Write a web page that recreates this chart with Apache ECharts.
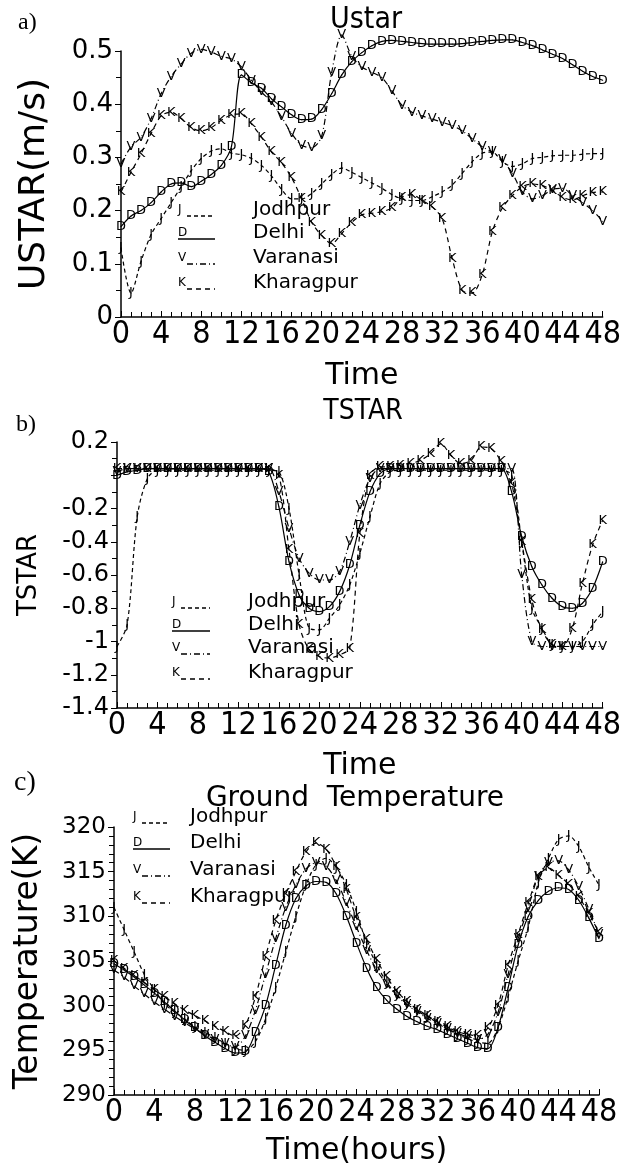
<!DOCTYPE html>
<html>
<head>
<meta charset="utf-8">
<script src="https://cdn.jsdelivr.net/npm/echarts@6/dist/echarts.min.js"></script>
<style>
  html, body { margin: 0; background: #fff; }
  #chart { width: 624px; height: 1171px; }
</style>
</head>
<body>
<div id="chart"></div>
<script>
// hours of the run
const hours = [0,1,2,3,4,5,6,7,8,9,10,11,12,13,14,15,16,17,18,19,20,21,22,23,24,
  25,26,27,28,29,30,31,32,33,34,35,36,37,38,39,40,41,42,43,44,45,46,47,48];

// a) Ustar (m/s)
const ustarJodhpur = [0.13,0.045,0.105,0.155,0.185,0.215,0.245,0.275,0.298,0.312,0.316,0.308,0.305,0.298,0.285,0.265,0.24,0.222,0.222,0.232,0.25,0.268,0.28,0.272,0.262,0.252,0.242,0.23,0.222,0.219,0.219,0.226,0.235,0.248,0.27,0.292,0.308,0.31,0.292,0.283,0.288,0.298,0.30,0.303,0.304,0.304,0.306,0.307,0.307];
const ustarDelhi = [0.17,0.19,0.20,0.215,0.235,0.25,0.252,0.245,0.255,0.268,0.285,0.32,0.455,0.44,0.43,0.41,0.395,0.38,0.371,0.372,0.39,0.42,0.455,0.48,0.497,0.51,0.518,0.52,0.518,0.516,0.514,0.513,0.513,0.513,0.514,0.516,0.518,0.52,0.521,0.521,0.516,0.51,0.502,0.494,0.486,0.474,0.462,0.452,0.445];
const ustarVaranasi = [0.288,0.32,0.338,0.373,0.42,0.452,0.476,0.496,0.503,0.498,0.49,0.485,0.47,0.445,0.423,0.404,0.376,0.345,0.323,0.318,0.34,0.46,0.53,0.49,0.47,0.46,0.45,0.425,0.398,0.385,0.378,0.372,0.366,0.36,0.35,0.335,0.32,0.31,0.295,0.27,0.235,0.222,0.228,0.24,0.242,0.228,0.215,0.2,0.18];
const ustarKharagpur = [0.235,0.272,0.307,0.345,0.378,0.385,0.373,0.356,0.35,0.356,0.37,0.38,0.382,0.363,0.338,0.31,0.29,0.262,0.222,0.178,0.153,0.138,0.157,0.178,0.192,0.195,0.198,0.205,0.225,0.23,0.219,0.207,0.185,0.11,0.05,0.045,0.08,0.16,0.205,0.228,0.245,0.25,0.247,0.238,0.225,0.22,0.228,0.234,0.235];

// b) TSTAR
const tstarJodhpur = [-1.03,-0.9,-0.25,-0.02,0.03,0.03,0.03,0.03,0.03,0.03,0.03,0.03,0.03,0.03,0.03,0.03,0.02,-0.2,-0.6,-0.92,-0.93,-0.86,-0.78,-0.66,-0.47,-0.25,-0.05,0.02,0.03,0.03,0.03,0.03,0.03,0.03,0.03,0.03,0.03,0.03,0.03,0.0,-0.4,-0.8,-0.92,-1.02,-1.03,-1.03,-1.0,-0.9,-0.82];
const tstarDelhi = [0.0,0.02,0.03,0.04,0.04,0.04,0.04,0.04,0.04,0.04,0.04,0.04,0.04,0.04,0.04,0.02,-0.19,-0.52,-0.72,-0.8,-0.82,-0.79,-0.7,-0.54,-0.3,-0.1,0.01,0.04,0.04,0.04,0.04,0.04,0.04,0.04,0.04,0.04,0.04,0.04,0.04,-0.1,-0.37,-0.55,-0.66,-0.74,-0.79,-0.8,-0.77,-0.68,-0.52];
const tstarVaranasi = [0.02,0.04,0.04,0.04,0.04,0.04,0.04,0.04,0.04,0.04,0.04,0.04,0.04,0.04,0.04,0.04,-0.1,-0.32,-0.5,-0.59,-0.63,-0.63,-0.58,-0.4,-0.18,-0.02,0.04,0.04,0.04,0.04,0.04,0.04,0.04,0.04,0.04,0.04,0.04,0.04,0.04,0.04,-0.6,-1.0,-1.03,-1.03,-1.03,-1.03,-1.03,-1.03,-1.03];
const tstarKharagpur = [0.04,0.04,0.04,0.04,0.04,0.04,0.04,0.04,0.04,0.04,0.04,0.04,0.04,0.04,0.04,0.04,0.0,-0.45,-0.9,-1.05,-1.09,-1.1,-1.08,-1.04,-0.35,0.0,0.05,0.05,0.06,0.07,0.09,0.13,0.19,0.12,0.07,0.09,0.17,0.16,0.08,-0.05,-0.4,-0.75,-0.93,-1.02,-1.03,-0.92,-0.65,-0.42,-0.27];

// c) Ground temperature (K)
const tempJodhpur = [311,308.5,306,303.5,301.8,300.2,299.3,298.5,297.6,297.0,296.4,295.8,295.2,295.0,296.0,298.5,302.0,306.0,310.0,313.5,315.8,316.5,315.5,313.5,310.5,307.0,304.6,302.6,301.2,300.2,299.4,298.8,298.1,297.4,296.8,296.3,295.9,295.8,297.5,301.0,305.0,308.8,313.8,316.5,318.6,319.0,317.8,315.5,313.5];
const tempDelhi = [304.7,304.0,303.2,302.3,301.4,300.4,299.4,298.4,297.5,296.6,295.9,295.2,294.7,294.8,297.0,300.0,304.5,309.0,312.0,313.4,313.9,313.8,312.5,310.0,307.0,304.2,302.0,300.6,299.6,298.8,298.2,297.7,297.3,296.8,296.3,295.8,295.3,295.2,297.5,302.0,306.8,310.0,311.8,312.8,313.2,313.0,311.8,309.8,307.5];
const tempVaranasi = [304.0,303.2,302.2,301.3,300.4,299.6,298.8,298.1,297.4,296.8,296.2,295.7,295.4,296.6,299.5,303.5,307.5,311.0,313.5,315.3,316.0,315.6,314.0,311.5,308.8,306.2,304.0,302.4,301.1,300.1,299.3,298.6,298.0,297.4,296.9,296.5,296.2,296.8,299.2,303.5,307.5,311.0,314.5,316.0,316.2,315.2,313.3,310.8,308.0];
const tempKharagpur = [305.0,304.2,303.4,302.6,301.8,301.0,300.2,299.5,298.9,298.3,297.7,297.1,296.6,297.8,301.0,305.5,309.5,312.5,315.0,317.2,318.2,317.5,315.6,313.0,309.8,307.4,305.1,303.2,301.6,300.5,299.6,298.9,298.2,297.6,297.1,296.8,296.6,297.5,300.0,304.5,308.0,311.5,314.5,315.4,314.6,313.6,312.2,310.3,308.2];

const stations = [
  { name: "Jodhpur", letter: "J", dash: [4, 3] },
  { name: "Delhi", letter: "D", dash: "solid" },
  { name: "Varanasi", letter: "V", dash: [6, 3, 1, 3] },
  { name: "Kharagpur", letter: "K", dash: [5, 4] },
];

const sans = "'DejaVu Sans', 'Noto Sans', sans-serif";
const narrow = "'Liberation Sans Narrow', 'DejaVu Sans Condensed', 'Liberation Sans', sans-serif";

const chart = echarts.init(document.getElementById("chart"));

function pairs(vals) {
  return vals.map((v, i) => [hours[i], v]);
}

function xAxisFor(gridIndex, name, nameGap) {
  return {
    type: "value",
    gridIndex: gridIndex,
    min: 0,
    max: 48,
    interval: 4,
    name: name,
    nameLocation: "middle",
    nameGap: nameGap,
    nameTextStyle: { color: "#000", fontSize: 30, fontFamily: sans },
    axisLine: { onZero: false, lineStyle: { color: "#000", width: 1.5 } },
    axisTick: { inside: true, length: 6, lineStyle: { color: "#000" } },
    minorTick: { show: true, splitNumber: 4, length: 5, lineStyle: { color: "#000" } },
    splitLine: { show: false },
    axisLabel: { color: "#000", fontSize: 32, fontFamily: narrow, margin: 2 },
  };
}

function yAxisFor(gridIndex, opts) {
  return {
    type: "value",
    gridIndex: gridIndex,
    min: opts.min,
    max: opts.max,
    interval: opts.interval,
    name: opts.name,
    nameLocation: "middle",
    nameGap: opts.nameGap,
    nameTextStyle: { color: "#000", fontSize: opts.nameSize, fontFamily: sans },
    axisLine: { onZero: false, lineStyle: { color: "#000", width: 1.5 } },
    axisTick: { inside: false, length: 6, lineStyle: { color: "#000" } },
    minorTick: { show: true, splitNumber: opts.minor, length: 5, lineStyle: { color: "#000" } },
    splitLine: { show: false },
    axisLabel: {
      color: "#000",
      fontSize: opts.labelSize,
      fontFamily: sans,
      margin: 8,
      formatter: opts.formatter,
    },
  };
}

function seriesFor(gridIndex, lists) {
  return stations.map((st, k) => ({
    name: st.name,
    type: "line",
    xAxisIndex: gridIndex,
    yAxisIndex: gridIndex,
    data: pairs(lists[k]),
    smooth: 0.3,
    clip: false,
    symbol: "circle",
    symbolSize: 1,
    itemStyle: { color: "#000" },
    lineStyle: { color: "#000", width: 1.2, type: st.dash },
    label: {
      show: true,
      position: "inside",
      formatter: st.letter,
      color: "#000",
      fontSize: 13,
      fontFamily: sans,
    },
    emphasis: { disabled: true },
    z: k === 1 ? 3 : 2,
  }));
}

// hand drawn legend boxes inside each panel
function legendFor(letterX, lineEnd, nameX, rows) {
  const out = [];
  stations.forEach((st, k) => {
    const y = rows[k];
    out.push({
      type: "text", x: letterX, y: y,
      style: { text: st.letter, font: "12px " + sans, fill: "#000", textAlign: "left", textVerticalAlign: "middle" },
    });
    out.push({
      type: "line",
      shape: { x1: st.dash === "solid" ? letterX : letterX + 9, y1: y + 6, x2: lineEnd, y2: y + 6 },
      style: { stroke: "#000", lineWidth: 1.3, lineDash: st.dash === "solid" ? null : st.dash },
    });
    out.push({
      type: "text", x: nameX, y: y,
      style: { text: st.name, font: "20px " + sans, fill: "#000", textAlign: "left", textVerticalAlign: "middle" },
    });
  });
  return out;
}

function label(text, x, y, font, align) {
  return {
    type: "text", x: x, y: y,
    style: { text: text, font: font, fill: "#000", textAlign: align || "center", textVerticalAlign: "middle" },
  };
}

chart.setOption({
  animation: false,
  backgroundColor: "#fff",
  grid: [
    { left: 121, right: 17, top: 51, height: 266 },
    { left: 117, right: 19, top: 442, height: 266 },
    { left: 114, right: 25, top: 827, height: 268 },
  ],
  xAxis: [
    xAxisFor(0, "Time", 44),
    xAxisFor(1, "Time", 43),
    xAxisFor(2, "Time(hours)", 41),
  ],
  yAxis: [
    yAxisFor(0, { min: 0, max: 0.5, interval: 0.1, minor: 2, name: "USTAR(m/s)", nameGap: 68, nameSize: 36, labelSize: 26 }),
    yAxisFor(1, {
      min: -1.4, max: 0.2, interval: 0.2, minor: 2, name: "TSTAR", nameGap: 75, nameSize: 26, labelSize: 24,
      formatter: (v) => (Math.abs(v) < 1e-9 ? "" : String(Math.round(v * 10) / 10)),
    }),
    yAxisFor(2, { min: 290, max: 320, interval: 5, minor: 5, name: "Temperature(K)", nameGap: 69, nameSize: 33, labelSize: 23 }),
  ],
  series: [
    ...seriesFor(0, [ustarJodhpur, ustarDelhi, ustarVaranasi, ustarKharagpur]),
    ...seriesFor(1, [tstarJodhpur, tstarDelhi, tstarVaranasi, tstarKharagpur]),
    ...seriesFor(2, [tempJodhpur, tempDelhi, tempVaranasi, tempKharagpur]),
  ],
  graphic: [
    label("a)", 18, 23, "24px 'Liberation Serif', serif", "left"),
    label("Ustar", 366, 20, "30px " + narrow),
    label("b)", 16, 425, "24px 'Liberation Serif', serif", "left"),
    label("TSTAR", 363, 412, "28px " + narrow),
    label("c)", 14, 783, "28px 'Liberation Serif', serif", "left"),
    label("Ground  Temperature", 355, 799, "28px " + sans),
    ...legendFor(178, 215, 253, [210, 233, 258, 283]),
    ...legendFor(172, 210, 248, [602, 625, 648, 673]),
    ...legendFor(133, 170, 190, [817, 843, 870, 897]),
  ],
});
</script>
</body>
</html>
